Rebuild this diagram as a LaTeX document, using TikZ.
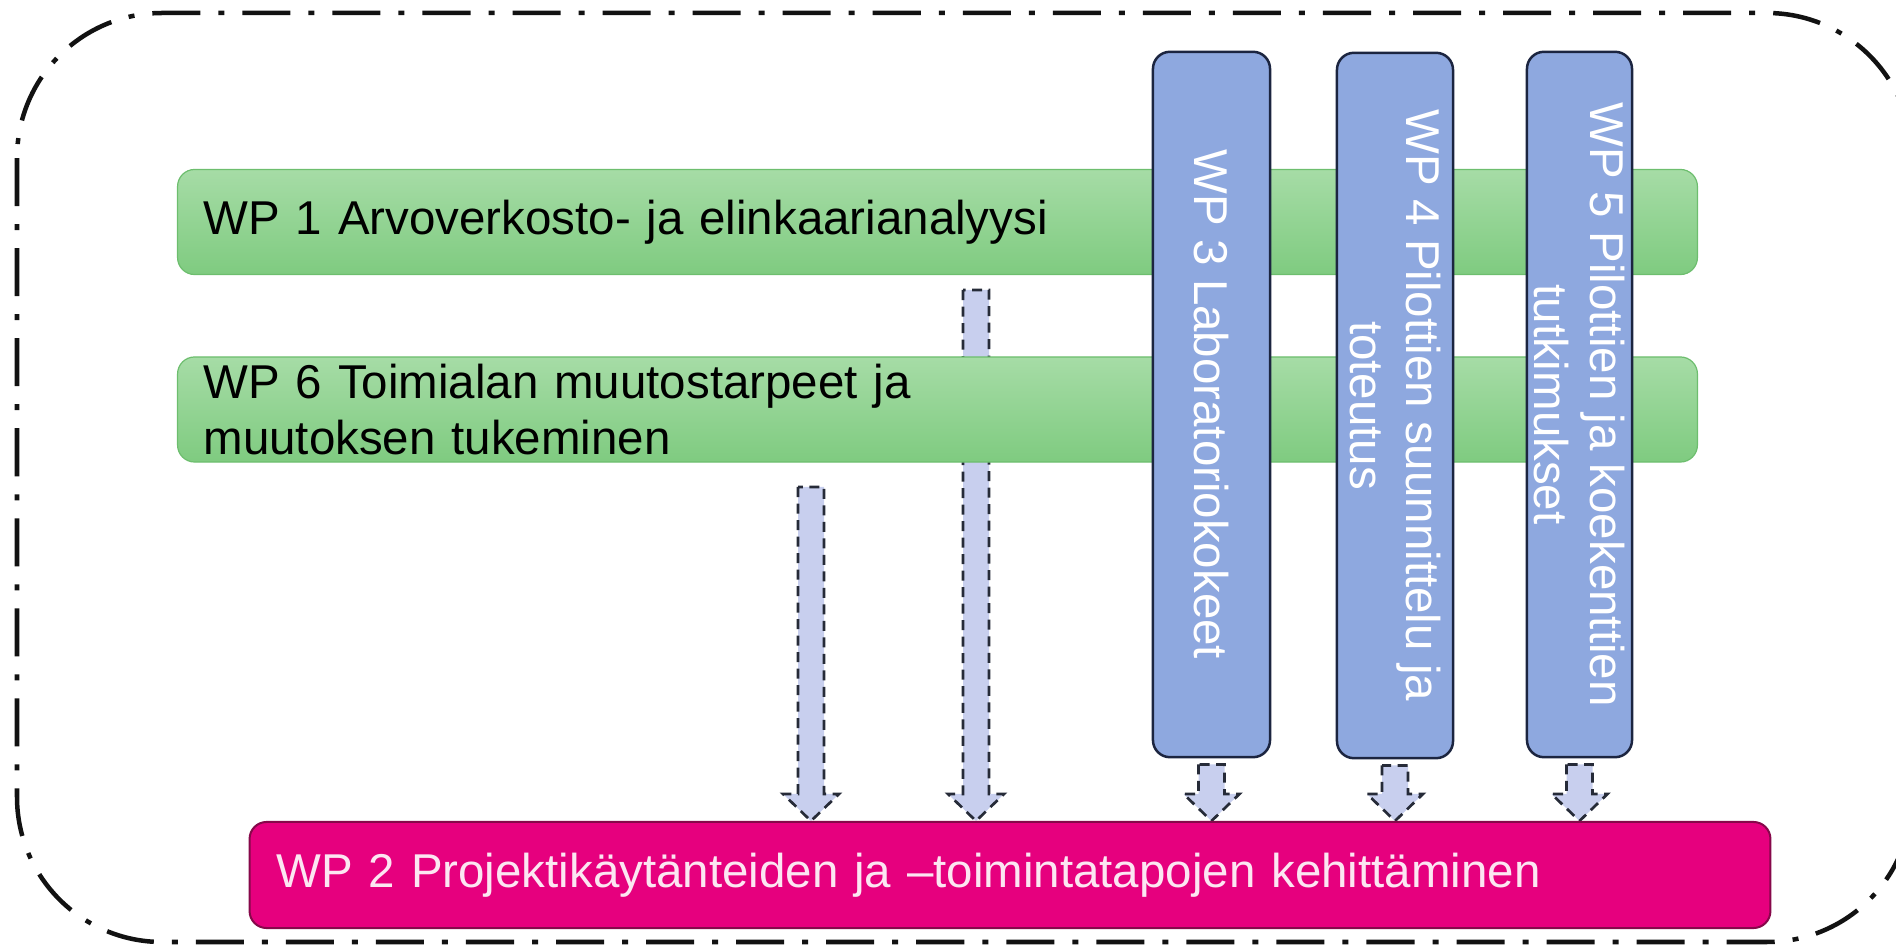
\documentclass[tikz,border=0pt]{standalone}
\usepackage{fontspec}
\setmainfont{Liberation Sans}
\usetikzlibrary{calc}
\usetikzlibrary{backgrounds}
\usepackage{xcolor}

\definecolor{wpgreentop}{HTML}{A6DCA6}
\definecolor{wpgreenbot}{HTML}{7FCB80}
\definecolor{wpgreenline}{HTML}{6DBE6E}
\definecolor{wpblue}{HTML}{8EA8DF}
\definecolor{wpbluedark}{HTML}{1C2540}
\definecolor{wpmagenta}{HTML}{E6007E}
\definecolor{wpmagentadark}{HTML}{86084A}
\definecolor{wppink}{HTML}{FCE6F2}
\definecolor{arrowfill}{HTML}{C8CFEE}
\definecolor{arrowline}{HTML}{262B38}

\newcommand{\wpfont}{\fontsize{13.5}{15.9}\selectfont}

\tikzset{
    wpbar/.style={rectangle, rounded corners=0.17cm, draw=wpgreenline, line width=0.012cm,
        top color=wpgreentop, bottom color=wpgreenbot, minimum width=15.19cm,
        minimum height=1.05cm, text width=14.67cm, inner xsep=0.26cm, inner ysep=0pt,
        align=left, font=\wpfont},
    wpcol/.style={rectangle, rounded corners=0.17cm, draw=wpbluedark, line width=0.025cm,
        fill=wpblue, text=white, rotate=-90, align=center, minimum width=7.05cm,
        inner sep=0pt, font=\wpfont},
    wpbase/.style={rectangle, rounded corners=0.17cm, draw=wpmagentadark, line width=0.02cm,
        fill=wpmagenta, text=wppink, minimum width=15.2cm, minimum height=1.06cm,
        text width=14.66cm, inner xsep=0.27cm, inner ysep=0pt, align=left, font=\wpfont},
    flowarrow/.style={fill=arrowfill, draw=arrowline, line width=0.027cm,
        dash pattern=on 0.1cm off 0.065cm},
    outerframe/.style={draw=black!93, line width=0.045cm, rounded corners=1.45cm,
        dash pattern=on 0.48cm off 0.18cm on 0.06cm off 0.18cm}
}

\newcommand{\blockarrow}[2]{%
    \draw[flowarrow] ($(#1)+(-13,0)$) -- ($(#2)+(-13,-27)$) -- ($(#2)+(-28,-27)$)
        -- (#2) -- ($(#2)+(28,-27)$) -- ($(#2)+(13,-27)$) -- ($(#1)+(13,0)$) -- cycle;}

\begin{document}
\begin{tikzpicture}[x=0.01cm,y=-0.01cm]
        \useasboundingbox (0,0) rectangle (1896,949);
        \clip (0,0) rectangle (1896,949);

        \coordinate (P1) at (937.5,222);
        \coordinate (P6) at (937.5,409.5);
        \coordinate (P2) at (1010,875);
        \coordinate (P3) at (1211.5,404.5);
        \coordinate (P4) at (1395,405.5);
        \coordinate (P5) at (1579.5,404.5);
        % \coordinate (P7) at (1760,404.5);

        \draw[outerframe] (17,13) rectangle (1912,942);

        \node[wpbar] (wp1) at (P1) {WP 1 Arvoverkosto- ja elinkaarianalyysi};
        \node[wpbar] (wp6) at (P6) {WP 6 Toimialan muutostarpeet ja\\muutoksen tukeminen};
        \node[wpbase] (wp2) at (P2) {WP 2 Projektikäytänteiden ja –toimintatapojen kehittäminen};

        \node[wpcol, minimum height=1.17cm] (wp3) at (P3) {WP 3 Laboratoriokokeet};
        \node[wpcol, minimum height=1.16cm] (wp4) at (P4) {WP 4 Pilottien suunnittelu ja\\toteutus};
        \node[wpcol, minimum height=1.05cm] (wp5) at (P5) {WP 5 Pilottien ja koekenttien\\tutkimukset};

        \coordinate (a1) at (811,487);
        \coordinate (a2) at (976,290);
        \coordinate (s3) at ($(wp3.east)+(0,6)$);
        \coordinate (s4) at ($(wp4.east)+(0,6)$);
        \coordinate (s5) at ($(wp5.east)+(0,6)$);
        \coordinate (t1) at (a1 |- wp2.north);
        \coordinate (t2) at (a2 |- wp2.north);
        \coordinate (t3) at (s3 |- wp2.north);
        \coordinate (t4) at (s4 |- wp2.north);
        \coordinate (t5) at (s5 |- wp2.north);

        \begin{scope}[on background layer]
            \blockarrow{a1}{t1}
            \blockarrow{a2}{t2}
            \blockarrow{s3}{t3}
            \blockarrow{s4}{t4}
            \blockarrow{s5}{t5}
        \end{scope}
\end{tikzpicture}
\end{document}
